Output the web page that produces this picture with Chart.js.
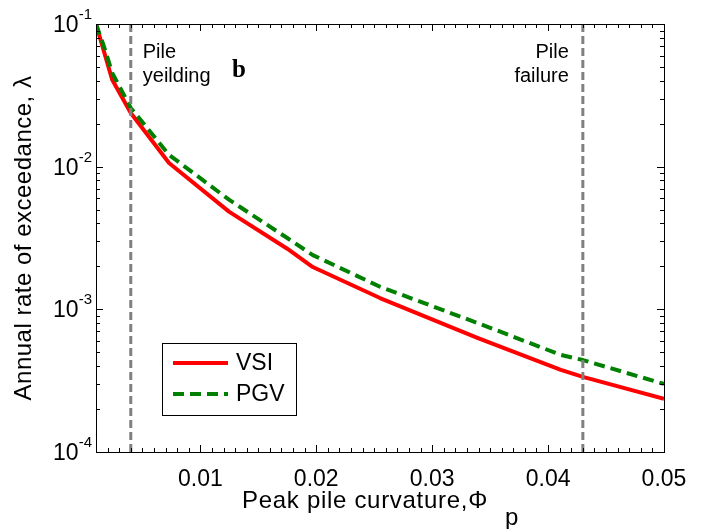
<!DOCTYPE html>
<html>
<head>
<meta charset="UTF-8">
<title>Pile curvature hazard curves</title>
<script src="https://cdn.jsdelivr.net/npm/chart.js"></script>
<style>
  body { margin: 0; background: #fff; }
  canvas { display: block; }
</style>
</head>
<body>
<canvas id="hazardChart" width="709" height="529"></canvas>
<script>
// peak pile curvature where the hazard curves are sampled
const curvature = [0.001, 0.0017, 0.0024, 0.004, 0.0073, 0.0125, 0.0175, 0.0197, 0.0255, 0.0339, 0.0411, 0.043, 0.05];
// annual rate of exceedance for each intensity measure
const rateVSI = [0.1, 0.0637, 0.0406, 0.0238, 0.0106, 0.00482, 0.00266, 0.00198, 0.00120, 0.000631, 0.000376, 0.000336, 0.000236];
const ratePGV = [0.1, 0.069, 0.0454, 0.0258, 0.0121, 0.00585, 0.00316, 0.0024, 0.00144, 0.000803, 0.000479, 0.000441, 0.0003];
// limit states on the curvature axis
const limitStates = [0.004, 0.043];
const limitNames = [['Pile', 'yeilding'], ['Pile', 'failure']];
const xTicks = [0.01, 0.02, 0.03, 0.04, 0.05];
const yTicks = [1e-4, 1e-3, 1e-2, 1e-1];

const FONT = "'Liberation Sans', Arial, sans-serif";
const toPoints = ys => curvature.map((x, i) => ({ x: x, y: ys[i] }));

// frame, inward ticks, superscript labels, titles, notes and legend box
const decorations = {
  id: 'decorations',
  afterDraw(chart) {
    const ctx = chart.ctx;
    const a = chart.chartArea;
    const xs = chart.scales.x, ys = chart.scales.y;
    ctx.save();

    // axes box
    ctx.strokeStyle = '#000';
    ctx.lineWidth = 1;
    ctx.strokeRect(a.left + 0.5, a.top + 0.5, a.right - a.left, a.bottom - a.top);

    // x ticks, minor every 0.001
    ctx.beginPath();
    for (let i = 2; i <= 50; i++) {
      const v = i / 1000;
      const px = Math.round(xs.getPixelForValue(v)) + 0.5;
      const len = i % 10 === 0 ? 7 : 4;
      ctx.moveTo(px, a.bottom); ctx.lineTo(px, a.bottom - len);
      ctx.moveTo(px, a.top); ctx.lineTo(px, a.top + len);
    }
    // y ticks, log minors
    for (let e = -4; e <= -1; e++) {
      for (let k = 1; k <= 9; k++) {
        const v = k * Math.pow(10, e);
        if (v > 0.1 + 1e-12) break;
        const py = Math.round(ys.getPixelForValue(v)) + 0.5;
        const len = k === 1 ? 7 : 4;
        ctx.moveTo(a.left, py); ctx.lineTo(a.left + len, py);
        ctx.moveTo(a.right, py); ctx.lineTo(a.right - len, py);
      }
    }
    ctx.stroke();

    // y tick labels as 10 with superscript exponent
    ctx.fillStyle = '#000';
    ctx.textBaseline = 'alphabetic';
    yTicks.forEach(v => {
      const py = ys.getPixelForValue(v);
      const exp = String(Math.round(Math.log10(v)));
      ctx.font = '15px ' + FONT;
      const we = ctx.measureText(exp).width;
      ctx.font = '23px ' + FONT;
      const wb = ctx.measureText('10').width;
      const right = a.left - 4;
      ctx.textAlign = 'left';
      ctx.fillText('10', right - we - wb, py + 8);
      ctx.font = '15px ' + FONT;
      ctx.fillText(exp, right - we, py - 5);
    });

    // y axis title
    ctx.save();
    ctx.letterSpacing = '0.5px';
    ctx.translate(24, (a.top + a.bottom) / 2);
    ctx.rotate(-Math.PI / 2);
    ctx.textAlign = 'center';
    ctx.textBaseline = 'middle';
    ctx.font = '24px ' + FONT;
    ctx.fillText('Annual rate of exceedance, \u03bb', 0, 0);
    ctx.restore();

    // x axis title with subscript p
    ctx.save();
    ctx.letterSpacing = '0.7px';
    ctx.font = '24px ' + FONT;
    ctx.textAlign = 'left';
    const main = 'Peak pile curvature,\u03a6';
    const wm = ctx.measureText(main).width;
    const total = wm + 30;
    const x0 = (a.left + a.right) / 2 - total / 2;
    ctx.fillText(main, x0, 508);
    ctx.fillText('p', x0 + wm + 17, 525);
    ctx.restore();

    // limit state notes
    ctx.font = '20px ' + FONT;
    limitStates.forEach((v, i) => {
      const px = xs.getPixelForValue(v);
      const lines = limitNames[i];
      if (i === 0) {
        ctx.textAlign = 'left';
        lines.forEach((t, j) => ctx.fillText(t, px + 12, 58 + j * 24));
      } else {
        ctx.textAlign = 'right';
        lines.forEach((t, j) => ctx.fillText(t, px - 14, 58 + j * 24));
      }
    });

    // panel letter
    ctx.font = "bold 25px 'Liberation Serif', 'Times New Roman', serif";
    ctx.textAlign = 'left';
    ctx.fillText('b', 232, 77);

    // legend box
    const lx = 162, ly = 343, lw = 134, lh = 72;
    ctx.fillStyle = '#fff';
    ctx.fillRect(lx, ly, lw, lh);
    ctx.strokeStyle = '#000';
    ctx.lineWidth = 1;
    ctx.strokeRect(lx + 0.5, ly + 0.5, lw, lh);
    chart.data.datasets.slice(0, 2).forEach((ds, i) => {
      const y = ly + 20 + i * 31;
      ctx.beginPath();
      ctx.strokeStyle = ds.borderColor;
      ctx.lineWidth = ds.borderWidth;
      ctx.setLineDash(ds.borderDash || []);
      ctx.moveTo(lx + 11, y);
      ctx.lineTo(lx + 66, y);
      ctx.stroke();
      ctx.setLineDash([]);
      ctx.fillStyle = '#000';
      ctx.font = '23px ' + FONT;
      ctx.textAlign = 'left';
      ctx.textBaseline = 'middle';
      ctx.fillText(ds.label, lx + 74, y + 1);
    });

    ctx.restore();
  }
};

const datasets = [
  {
    label: 'VSI', data: toPoints(rateVSI),
    borderColor: '#ff0000', borderWidth: 4, order: 2
  },
  {
    label: 'PGV', data: toPoints(ratePGV),
    borderColor: '#008000', borderWidth: 4, borderDash: [11, 6], order: 1
  }
].concat(limitStates.map(v => ({
  label: '', data: [{ x: v, y: yTicks[0] }, { x: v, y: yTicks[yTicks.length - 1] }],
  borderColor: '#808080', borderWidth: 3, borderDash: [8, 4], order: 0
})));

datasets.forEach(ds => {
  ds.showLine = true;
  ds.pointRadius = 0;
  ds.tension = 0;
  ds.fill = false;
  ds.borderCapStyle = 'butt';
  ds.borderJoinStyle = 'round';
});

new Chart(document.getElementById('hazardChart'), {
  type: 'scatter',
  data: { datasets: datasets },
  options: {
    responsive: false,
    animation: false,
    layout: { padding: { top: 24, right: 45, left: 0, bottom: 0 } },
    plugins: { legend: { display: false }, tooltip: { enabled: false } },
    scales: {
      x: {
        type: 'linear', min: 0.001, max: 0.05,
        grid: { display: false }, border: { display: false },
        afterBuildTicks: s => { s.ticks = xTicks.map(v => ({ value: v })); },
        ticks: {
          color: '#000', padding: 6, maxRotation: 0,
          font: { family: FONT, size: 23 },
          callback: v => v.toFixed(2)
        },
        afterFit: s => { s.height = 77; }
      },
      y: {
        type: 'logarithmic', min: 1e-4, max: 1e-1,
        grid: { display: false }, border: { display: false },
        ticks: { display: false },
        afterFit: s => { s.width = 96; }
      }
    }
  },
  plugins: [decorations]
});
</script>
</body>
</html>
